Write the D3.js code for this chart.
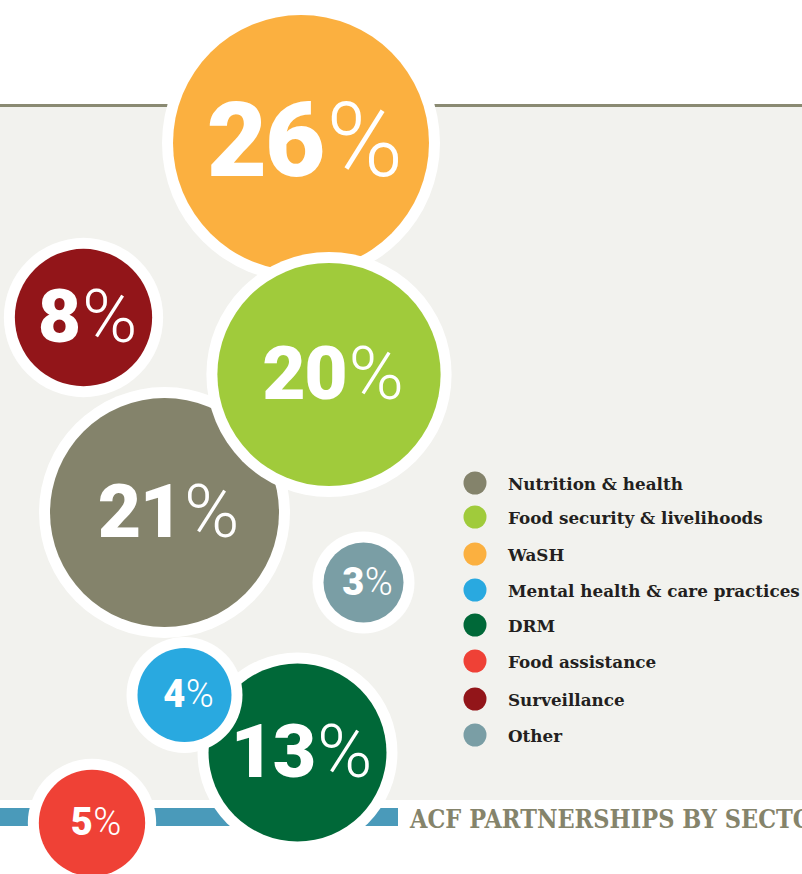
<!DOCTYPE html>
<html>
<head>
<meta charset="utf-8">
<script src="https://cdn.jsdelivr.net/npm/d3@7/dist/d3.min.js"></script>
<style>
  html, body { margin: 0; padding: 0; background: #fff; overflow: hidden; }
  svg { display: block; }
  .legend-label { font-family: 'DejaVu Serif', serif; font-weight: bold; font-size: 16.8px; fill: #231f20; }
  .title { font-family: 'DejaVu Serif', serif; font-weight: bold; font-size: 22.5px; fill: #85846b; }
  .pct { font-family: Roboto, Inter, 'Liberation Sans', sans-serif; fill: #fff; }
  .pct .num { font-weight: 900; letter-spacing: -0.02em; }
  .pct .sign { font-weight: 300; }
</style>
</head>
<body>
<div class="chart-container"></div>
<script>
var sectors = [
  'Nutrition & health',
  'Food security & livelihoods',
  'WaSH',
  'Mental health & care practices',
  'DRM',
  'Food assistance',
  'Surveillance',
  'Other'
];
var shares = [21, 20, 26, 4, 13, 5, 8, 3];
var sectorColors = ['#84836b', '#a0cb3b', '#fbb040', '#29a9e0', '#006838', '#ef4136', '#921519', '#7a9ea5'];
var title = 'ACF PARTNERSHIPS BY SECTOR';

// bubble centres (layout only), same order as sectors
var bubbleX = [164.5, 329, 301, 184.5, 297.5, 92, 83.5, 363.5];
var bubbleY = [512.5, 374.5, 143, 695, 752.5, 823, 317.5, 582.5];
// paint order so the overlaps sit like the original
var drawOrder = [4, 3, 5, 7, 6, 0, 2, 1];

var width = 802;
var height = 874;
var ring = 11;

var svg = d3.select('.chart-container').append('svg')
  .attr('width', width)
  .attr('height', height);

// radius grows with the square root of the share
var r = d3.scalePow().exponent(0.5)
  .domain([3, 26])
  .range([40, 128]);

// three label sizes
var labelSize = d3.scaleThreshold()
  .domain([6, 25])
  .range([38, 75, 104]);

// panel + top rule
svg.append('rect')
  .attr('x', 0)
  .attr('y', 107)
  .attr('width', width)
  .attr('height', 693)
  .attr('fill', '#f2f2ee');

svg.append('line')
  .attr('x1', 0)
  .attr('x2', width)
  .attr('y1', 105.5)
  .attr('y2', 105.5)
  .attr('stroke', '#8a8a72')
  .attr('stroke-width', 3);

// bottom bar + title
svg.append('rect')
  .attr('x', 0)
  .attr('y', 808)
  .attr('width', 398)
  .attr('height', 18)
  .attr('fill', '#4a9aba');

svg.append('text')
  .attr('class', 'title')
  .attr('transform', 'translate(410,828) scale(1,1.12)')
  .text(title);

// bubbles
var bubbles = svg.selectAll('.bubble')
  .data(drawOrder)
  .enter()
  .append('g')
  .attr('class', 'bubble')
  .attr('transform', function (i) { return 'translate(' + bubbleX[i] + ',' + bubbleY[i] + ')'; });

bubbles.append('circle')
  .attr('r', function (i) { return r(shares[i]) + ring; })
  .attr('fill', '#fff');

bubbles.append('circle')
  .attr('r', function (i) { return r(shares[i]); })
  .attr('fill', function (i) { return sectorColors[i]; });

var labels = bubbles.append('text')
  .attr('class', 'pct')
  .attr('text-anchor', 'middle')
  .attr('x', 4)
  .attr('y', function (i) { return labelSize(shares[i]) * 0.32; })
  .style('font-size', function (i) { return labelSize(shares[i]) + 'px'; });

labels.append('tspan')
  .attr('class', 'num')
  .text(function (i) { return shares[i]; });

labels.append('tspan')
  .attr('class', 'sign')
  .attr('dx', '0.03em')
  .text('%');

// legend
var legend = svg.selectAll('.legend-item')
  .data(sectors)
  .enter()
  .append('g')
  .attr('class', 'legend-item')
  .attr('transform', function (d, i) {
    var rowY = [483, 517, 554, 590, 625, 661, 699, 735];
    return 'translate(475,' + rowY[i] + ')';
  });

legend.append('circle')
  .attr('r', 11.5)
  .attr('fill', function (d, i) { return sectorColors[i]; });

legend.append('text')
  .attr('class', 'legend-label')
  .attr('x', 33)
  .attr('y', 7)
  .text(function (d) { return d; });
</script>
</body>
</html>
